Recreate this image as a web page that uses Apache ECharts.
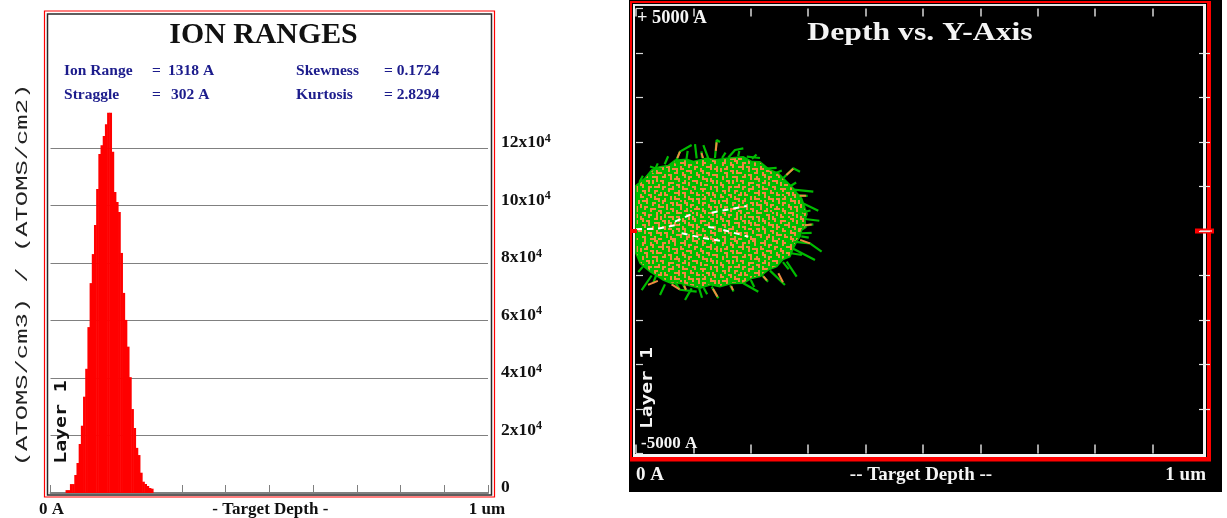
<!DOCTYPE html>
<html><head><meta charset="utf-8">
<style>html,body{margin:0;padding:0;background:#fff}#c{width:1227px;height:518px}</style>
<script src="https://cdn.jsdelivr.net/npm/echarts@6/dist/echarts.min.js"></script>
</head><body><div id="c"></div>
<script>
// ---------- Ion range histogram (200 bins across 1 um; bins after the last one listed are empty)
const ionBinValues = [0,0,0,0,0,0,0,1000,1000,3100,3100,6260,10430,17040,23400,33500,43200,57700,73000,83100,
  93200,105700,117900,121000,124200,128300,132300,132300,118700,104700,101200,97700,83500,69600,60200,50900,
  40300,29200,22600,15700,13200,7060,3930,3130,2430,1740,1500];
const binCount = 200;
const binNames = Array.from({length: binCount}, (_, i) => String(i * 50));
const xLabelsLeft = {0: '0 A', 100: '- Target Depth -', 199: '1 um'};
const xLabelsRight = {0: '0 A', 5000: '-- Target Depth --', 10000: '1 um'};

// ---------- Depth vs. Y-axis cloud: [depth A, y A]
const cloudOutline = [[0,1020],[157,1190],[273,1371],[400,1440],[560,1470],[679,1590],[883,1610],[1000,1560],[1231,1633],[1400,1600],[1580,1633],[1870,1670],
  [2020,1560],[2160,1558],[2334,1371],[2480,1300],[2566,1184],[2740,959],[2800,860],[2886,734],[2944,509],[2980,380],[2944,247],[2960,80],[2886,22],[2860,-120],[2799,-240],[2730,-420],[2683,-577],
  [2560,-640],[2451,-802],[2300,-880],[2160,-1026],[2020,-1060],[1870,-1176],[1660,-1180],[1463,-1251],[1300,-1210],[1115,-1288],[940,-1230],[766,-1176],[620,-1180],[476,-1101],[244,-914],[70,-726],[0,-502]];
const greenTracks = [
  [[679,1520],[766,1783],[970,1932]], [[1057,1633],[1028,1955]], [[1260,1633],[1173,1932]],
  [[1376,1640],[1405,2045],[1463,2000]], [[1609,1650],[1725,1820],[1870,1858]], [[1930,1670],[2160,1640]],
  [[2276,1400],[2450,1420]], [[2566,1190],[2740,1408],[2857,1333]], [[2740,930],[3089,883]],
  [[2915,620],[3176,456]], [[2944,270],[3194,230]], [[2886,-50],[3060,-40]],
  [[2740,-240],[3031,-277],[3234,-465]], [[2740,-400],[3118,-652]], [[2625,-690],[2799,-1026]],
  [[2334,-890],[2595,-1213]], [[1870,-1176],[2131,-1364]], [[1318,-1250],[1434,-1512]],
  [[970,-1290],[854,-1550]], [[679,-1150],[766,-1320],[1057,-1364]], [[505,-1200],[418,-1438]],
  [[273,-1000],[99,-1326]], [[1100,-1290],[1150,-1500]], [[244,1450],[418,1370]],
  [[300,1300],[380,1520]], [[500,1500],[560,1680]], [[880,1620],[900,1800]], [[1150,1640],[1140,1790]],
  [[1500,1640],[1560,1760]], [[1780,1680],[1800,1800]], [[2020,1620],[2100,1720]], [[2430,1300],[2540,1360]],
  [[2680,1000],[2790,1090]], [[2830,800],[2990,790]], [[2900,420],[3040,460]], [[2930,120],[3090,150]],
  [[2880,-120],[3010,-150]], [[2700,-500],[2890,-540]], [[2560,-700],[2660,-860]], [[2200,-1000],[2300,-1140]],
  [[2000,-1100],[2060,-1260]], [[1640,-1220],[1700,-1360]], [[1180,-1280],[1240,-1420]], [[820,-1200],[880,-1350]],
  [[350,-1000],[300,-1170]], [[120,-800],[40,-920]], [[60,1100],[120,1240]]
];
const orangeTracks = [
  [[720,1640],[766,1783]], [[1390,1800],[1405,1990]], [[2620,1260],[2740,1400]], [[2860,-200],[3031,-277]],
  [[2480,-950],[2560,-1150]], [[1340,-1300],[1420,-1480]], [[620,-1200],[760,-1310]], [[380,-1120],[210,-1210]],
  [[1170,1640],[1140,1750]], [[2850,790],[2960,790]], [[2940,130],[3060,145]], [[2220,-1020],[2280,-1110]],
  [[840,-1230],[870,-1320]], [[1660,-1240],[1690,-1330]]
];
const whiteTracks = [
  [[0,37],[418,60],[766,157]], [[679,210],[1028,412]], [[1318,412],[1928,562]],
  [[795,-52],[1202,-165],[1463,-217]], [[1521,22],[1956,-127]], [[1260,90],[1400,70]]
];

// ---------- Texture of the cloud: # = orange, . = green
const cloudTexture = [
  '..#....##.....#.##....#...###..#....##..',
  '.##..#..#..##.#..#..###.....#..##....#..',
  '.#...##....#.....#....#.##.....#...#....',
  '...#..#..###.##.....#...#..##....###..#.',
  '#.##.......#..#.###.##.....#..#....#.##.',
  '#....##.#.....#...#....###....##......#.',
  '..##..#.###......##..#...#..#..#.##.....',
  '...#........#.##.....##.....##....#.###.',
  '.#.#..###..##..#..#...#.##...#.#......#.',
  '.#......#......#.###....#......###.#....',
  '...##.#.#.##.......#..#...###....#.##.#.',
  '#...#.#....#..###....##.#...#.#.....#.#.',
  '##.......#....#...##....#.....#.##......',
  '.#..##.###.##...#..#.#....##.......#.##.',
  '....#......#..###....###...#..###..#..#.',
  '.##.#..##.....#....#.....#.....#......#.',
  '..#....#..#.#....###.##..##.#....##.#...',
  '#...##...##.##.....#..#.....##.#..#.##..',
  '##...#.#.......#.#....#.#.......#....#..',
  '...#...###..#..#.###....###.##.##..#....',
  '.###.....#.##.......#.#...#..#.....###.#',
  '...#..##...#...##.#...##.....#.##....#.#',
  '#.....#..#...#..#.###..#.##....#..#.....',
  '#.##.....###.#......#....#..#.....##.##.',
  '..#..###.....#.##...#..#...###.#...#..#.',
  '.....#...##.....#.#...##.#.....##.....#.',
  '.##.....#.#..##...###.....#.#...#.###...',
  '..#.##..#...#..........##...#.#.....#.#.',
  '#...#...#.#.#.###.##....#.#...##..#...#.',
  '##.....##.#.....#..#.#..#.##.......##...',
  '.#.##......##.#....#.##....#..###...#.#.',
  '....#..###..#.##.#....#.#.....#...#...#.',
  '.##.#....#.....#.###....###.#...###.....',
  '..#...#..#.##........#....#.##....#.##..',
  '#...###.....#.##..##.##.....#..#.....#.#',
  '#.#.....#.......#..#..#..##....##..#...#',
  '..#.##..###.##..#.....#...#.#......###..',
  '.....#....#..#....###...#...###.#....#..',
  '.##....#.....#.#....#..##.#.....##.#....',
  '..#..###.##....###.....#..#..#.....##.#.'
];
function textureCanvas() {
  const cell = 2, cv = document.createElement('canvas');
  cv.width = cv.height = cloudTexture.length * cell;
  const ctx = cv.getContext('2d');
  ctx.fillStyle = '#00bc00'; ctx.fillRect(0, 0, cv.width, cv.height);
  ctx.fillStyle = '#f08a42';
  cloudTexture.forEach((row, y) => [...row].forEach((c, x) => { if (c === '#') ctx.fillRect(x * cell, y * cell, cell, cell); }));
  return cv;
}
const flatten = tracks => tracks.flatMap(t => [...t, ['-', '-']]);
const trackSeries = (name, tracks, color, width, type) => ({
  name, type: 'line', xAxisIndex: 1, yAxisIndex: 1, data: flatten(tracks), symbol: 'none', connectNulls: false,
  lineStyle: {color, width, type: type || 'solid'}, silent: true, animation: false, z: 5
});

const serif = '"Liberation Serif"';
const label = (text, x, y, fill, font, scaleX, align) => ({type: 'text', x, y, z: 120, scaleX: scaleX || 1, silent: true,
  style: {text, fill, font, textAlign: align || 'left', textVerticalAlign: 'middle'}});
const rotated = (text, x, y, fill, font, scaleX) => ({type: 'text', x, y, z: 120, rotation: Math.PI / 2, scaleX, silent: true,
  style: {text, fill, font, textAlign: 'center', textVerticalAlign: 'middle'}});
const bar = (x, y, width, height, fill, z) => ({type: 'rect', z: z, silent: true, shape: {x, y, width, height}, style: {fill}});
const box = (x, y, width, height, stroke, lineWidth) => ({type: 'rect', z: 110, silent: true, shape: {x, y, width, height},
  style: {fill: 'none', stroke, lineWidth}});
const stat = (text, x, y) => label(text, x, y, '#1c1c8c', 'bold 14.5px ' + serif, 1.07);

const chart = echarts.init(document.getElementById('c'), null, {renderer: 'canvas'});
const pattern = {image: textureCanvas(), repeat: 'repeat'};
const thousandSteps = [0,1000,2000,3000,4000,5000,6000,7000,8000,9000];
const innerYSteps = [-4000,-3000,-2000,-1000,0,1000,2000,3000,4000];
const boldSerif = {fontFamily: 'Liberation Serif', fontWeight: 'bold'};

chart.setOption({
  animation: false,
  backgroundColor: '#fff',
  grid: [
    {left: 50.5, top: 90.5, width: 437.5, height: 402.5},
    {left: 636, top: 8.5, width: 574, height: 445}
  ],
  xAxis: [
    Object.assign({type: 'category', gridIndex: 0, data: binNames, boundaryGap: true,
      axisLine: {lineStyle: {color: '#808080', width: 2}},
      axisTick: {show: true, inside: true, length: 8, interval: 19, lineStyle: {color: '#808080'}},
      splitLine: {show: false},
      axisLabel: Object.assign({interval: i => i in xLabelsLeft, formatter: (v, i) => xLabelsLeft[i] || '', margin: 8,
        color: '#111', fontSize: 17}, boldSerif)}),
    {type: 'value', gridIndex: 1, min: 0, max: 10000, interval: 1000, position: 'bottom',
      axisLine: {show: false, onZero: false}, splitLine: {show: false},
      axisTick: {show: true, inside: true, length: 9, customValues: thousandSteps, lineStyle: {color: '#d8d8d8', width: 1.5}},
      axisLabel: Object.assign({customValues: [0, 5000, 10000], alignMinLabel: 'left', alignMaxLabel: 'right', margin: 12,
        formatter: v => xLabelsRight[v] ? '{t|' + xLabelsRight[v] + '}' : '',
        rich: {t: Object.assign({color: '#f4f4f4', fontSize: 19, padding: [0, 4, 0, 0]}, boldSerif)}}, boldSerif)},
    {type: 'value', gridIndex: 1, min: 0, max: 10000, interval: 1000, position: 'top',
      axisLine: {show: false, onZero: false}, splitLine: {show: false}, axisLabel: {show: false},
      axisTick: {show: true, inside: true, length: 8, customValues: thousandSteps, lineStyle: {color: '#d8d8d8', width: 1.5}}}
  ],
  yAxis: [
    {type: 'value', gridIndex: 0, position: 'right', min: 0, max: 140000, interval: 20000,
      axisLine: {show: false, onZero: false}, axisTick: {show: false},
      splitLine: {show: true, showMaxLine: false, lineStyle: {color: '#808080', width: 1}},
      axisLabel: {margin: 13, showMaxLabel: false, padding: [0, 0, 11, 0],
        formatter: v => v === 0 ? '{b|0}' : '{b|' + v / 10000 + 'x10}{s|4}',
        rich: {b: Object.assign({fontSize: 17.5, color: '#111'}, boldSerif),
               s: Object.assign({fontSize: 12, color: '#111', verticalAlign: 'top', padding: [0, 0, 8, 0]}, boldSerif)}}},
    {type: 'value', gridIndex: 1, position: 'left', min: -5000, max: 5000, interval: 1000,
      axisLine: {show: false, onZero: false}, splitLine: {show: false}, axisLabel: {show: false},
      axisTick: {show: true, inside: true, length: 7, lineStyle: {color: '#d8d8d8', width: 1.2}}},
    {type: 'value', gridIndex: 1, position: 'right', min: -5000, max: 5000, interval: 1000, z: 130,
      axisLine: {show: false, onZero: false}, splitLine: {show: false}, axisLabel: {show: false},
      axisTick: {show: true, inside: true, length: 11, customValues: innerYSteps, lineStyle: {color: '#e8e8e8', width: 1.2}}}
  ],
  series: [
    {name: 'Ion ranges', type: 'bar', xAxisIndex: 0, yAxisIndex: 0, data: ionBinValues,
      barWidth: '125%', itemStyle: {color: '#ff0000'}, silent: true, z: 3},
    {name: 'Cloud', type: 'custom', xAxisIndex: 1, yAxisIndex: 1, data: cloudOutline, silent: true, z: 4,
      renderItem: (params, api) => {
        if (params.dataIndex !== 0) return null;
        return {type: 'polygon', shape: {points: cloudOutline.map(p => api.coord(p))}, style: {fill: pattern, stroke: '#00bc00', lineWidth: 1.5}};
      }},
    trackSeries('Green tracks', greenTracks, '#00bc00', 2.2),
    trackSeries('Orange tracks', orangeTracks, '#f08a42', 2),
    trackSeries('Damage', whiteTracks, '#ffffff', 2, [6, 5])
  ],
  graphic: {elements: [
    bar(629, 0, 593, 492, '#000000', -1),
    box(44.5, 11, 450, 486, '#ff0000', 1.2),
    box(47.5, 14, 444, 481, '#2a2a2a', 1.5),
    bar(630, 1, 581, 2, '#ff0000', 110), bar(630, 1, 2, 460, '#ff0000', 110),
    bar(1207, 1, 4, 460, '#ff0000', 110), bar(630, 457, 581, 4.5, '#ff0000', 110),
    bar(633, 4, 573, 2, '#e4e4e4', 111), bar(633, 4, 2, 452, '#f4f4f4', 111),
    bar(1203, 4, 3, 452, '#f4f4f4', 111), bar(633, 454, 573, 3, '#f4f4f4', 111),
    bar(1195, 228.5, 19, 5, '#ff0000', 112), bar(1200, 230.5, 12, 1, '#ffffff', 113),
    bar(632, 229, 5, 4, '#ff0000', 112),
    label('ION RANGES', 263.5, 36, '#111', 'bold 29px ' + serif, 1.03, 'center'),
    label('Depth vs. Y-Axis', 920, 33, '#f4f4f4', 'bold 26px ' + serif, 1.22, 'center'),
    stat('Ion Range', 64, 71), stat('=', 152, 71), stat('1318 A', 168, 71),
    stat('Straggle', 64, 95), stat('=', 152, 95), stat('302 A', 171, 95),
    stat('Skewness', 296, 71), stat('= 0.1724', 384, 71),
    stat('Kurtosis', 296, 95), stat('= 2.8294', 384, 95),
    label('+ 5000 A', 637, 18, '#f4f4f4', 'bold 18.4px ' + serif),
    label('-5000 A', 641, 444, '#f4f4f4', 'bold 17px ' + serif),
    rotated('(ATOMS/cm3) / (ATOMS/cm2)', 22, 275, '#222', '17px "Liberation Mono"', 1.5),
    rotated('Layer 1', 62, 422, '#111', 'bold 15px "DejaVu Sans Mono"', 1.32),
    rotated('Layer 1', 648, 388, '#f4f4f4', 'bold 15px "DejaVu Sans Mono"', 1.3)
  ]}
});
</script></body></html>
